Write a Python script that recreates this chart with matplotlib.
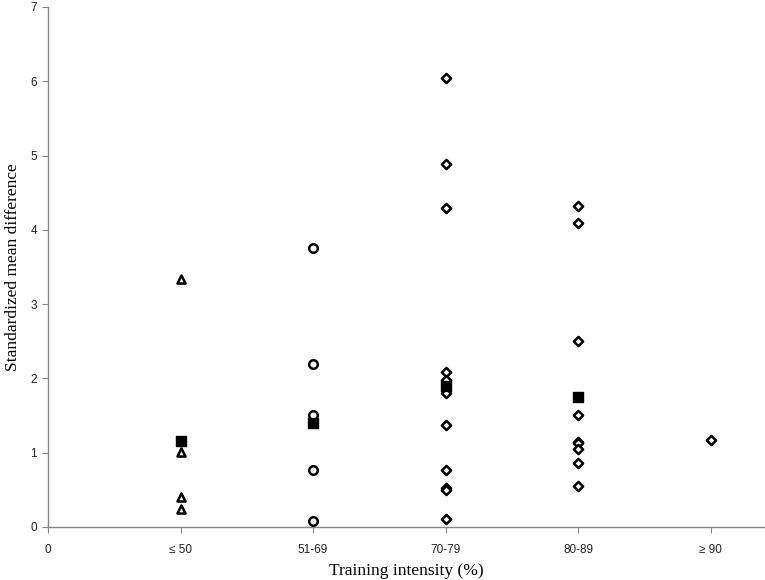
import matplotlib.pyplot as plt

categories = ['0', '≤ 50', '51-69', '70-79', '80-89', '≥ 90']

# individual effect sizes per intensity group
le50 = [3.34, 1.01, 0.40, 0.24]
i51_69 = [3.75, 2.20, 1.51, 0.77, 0.08]
i70_79 = [6.05, 4.88, 4.30, 2.08, 1.98, 1.80, 1.37, 0.77, 0.52, 0.50, 0.11]
i80_89 = [4.32, 4.09, 2.50, 1.51, 1.15, 1.13, 1.05, 0.86, 0.55]
ge90 = [1.17]

# group means (filled squares)
mean_pos = [1, 2, 3, 4]
mean_vals = [1.16, 1.40, 1.90, 1.75]

fig = plt.figure(figsize=(7.65, 5.8), dpi=100)
ax = fig.add_axes([0.0627, 0.0914, 0.9373, 0.8966])

mk = dict(facecolors='white', edgecolors='black', linewidths=1.8, zorder=3)
ax.scatter([1] * len(le50), le50, marker='^', s=34, **mk)
ax.scatter([2] * len(i51_69), i51_69, marker='o', s=38, **mk)
ax.scatter([3] * len(i70_79), i70_79, marker='D', s=22, **mk)
ax.scatter([4] * len(i80_89), i80_89, marker='D', s=22, **mk)
ax.scatter([5] * len(ge90), ge90, marker='D', s=22, **mk)
ax.scatter(mean_pos, mean_vals, marker='s', s=55, color='black', zorder=4)

ax.set_xlim(0, 5.41)
ax.set_ylim(0, 7)
ax.set_xticks(range(len(categories)))
ax.set_xticklabels(categories)
ax.set_yticks(range(8))

tick_font = ['Liberation Sans Narrow', 'Liberation Sans', 'DejaVu Sans']
for lab in ax.get_xticklabels() + ax.get_yticklabels():
    lab.set_family(tick_font)
    lab.set_fontsize(8.5)
    lab.set_color('#222222')

ax.tick_params(axis='x', direction='out', length=4, pad=8, color='#868686')
ax.tick_params(axis='y', direction='out', length=4, pad=4, color='#868686')

for s in ['top', 'right']:
    ax.spines[s].set_visible(False)
for s in ['left', 'bottom']:
    ax.spines[s].set_color('#868686')
    ax.spines[s].set_linewidth(1.0)

ax.set_xlabel('Training intensity (%)', family='Liberation Serif', fontsize=12.5, labelpad=5)
ax.set_ylabel('Standardized mean difference', family='Liberation Serif', fontsize=12.5)
ax.yaxis.set_label_coords(-0.037, 0.5)

fig.savefig('out.png', dpi=100)
